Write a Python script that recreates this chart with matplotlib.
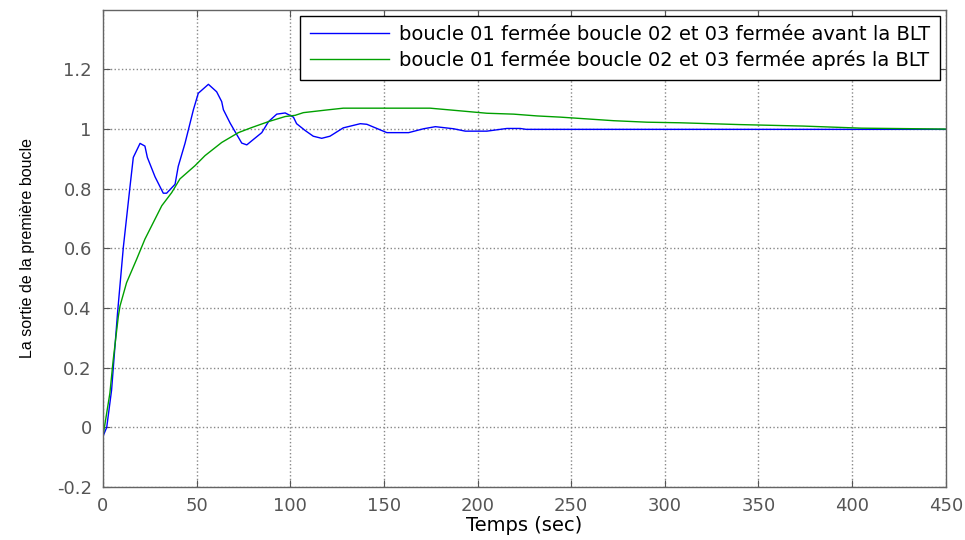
import numpy as np
import matplotlib
matplotlib.use("Agg")
import matplotlib.pyplot as plt
from matplotlib import font_manager

# Réponse de la boucle 01 (lecture de la courbe simulée)
t_avant = [0, 2, 4.6, 7.8, 10.9, 14.4, 16.2, 19.8, 22.4, 23.7, 27.8, 32.2, 34, 38.5,
           40.2, 43.8, 48.3, 50.9, 56.3, 60.7, 63.4, 64.3, 67.9, 71.4, 74.1, 76.8,
           80.3, 84.8, 88.4, 92.8, 97.3, 101.7, 103.4, 108, 112.3, 116.8, 121.2,
           128.3, 137.4, 140.9, 151.6, 163.2, 171.2, 177.5, 187.2, 193.5, 205,
           215.7, 222.8, 226, 450]
y_avant = [-0.03, 0.0, 0.125, 0.385, 0.605, 0.805, 0.905, 0.952, 0.943, 0.905, 0.84,
           0.785, 0.785, 0.815, 0.875, 0.952, 1.065, 1.12, 1.15, 1.125, 1.092, 1.065,
           1.02, 0.982, 0.953, 0.947, 0.965, 0.988, 1.025, 1.05, 1.054, 1.04, 1.018,
           0.995, 0.976, 0.969, 0.976, 1.004, 1.018, 1.016, 0.988, 0.988, 1.001,
           1.008, 1.001, 0.993, 0.993, 1.002, 1.002, 0.999, 0.999]

t_apres = [0, 3.7, 5.5, 8.2, 9.1, 12.6, 18, 22.4, 26.9, 31.4, 36.7, 41.1, 49.1, 54.5,
           63.4, 72.3, 79.4, 88.4, 97.3, 102.6, 107, 119.5, 128.3, 148, 174.7, 190.8,
           205, 219.3, 231.8, 244.2, 258.5, 272.7, 290.5, 308.4, 340, 374, 405, 450]
y_apres = [-0.03, 0.115, 0.228, 0.372, 0.407, 0.485, 0.564, 0.631, 0.687, 0.743,
           0.787, 0.833, 0.877, 0.911, 0.955, 0.988, 1.005, 1.025, 1.042, 1.046,
           1.055, 1.064, 1.07, 1.07, 1.07, 1.061, 1.053, 1.05, 1.044, 1.04, 1.034,
           1.028, 1.023, 1.021, 1.015, 1.01, 1.003, 1.0]

libelles = ["boucle 01 fermée boucle 02 et 03 fermée avant la BLT",
            "boucle 01 fermée boucle 02 et 03 fermée aprés la BLT"]

xticks = np.arange(0, 451, 50)
yticks = [-0.2, 0, 0.2, 0.4, 0.6, 0.8, 1, 1.2]
ytick_labels = ["-0.2", "0", "0.2", "0.4", "0.6", "0.8", "1", "1.2"]

plt.rcParams["font.family"] = ["DejaVu Sans"]

# police étroite pour le titre de l'axe y, si elle est disponible
try:
    font_manager.findfont("Liberation Sans Narrow", fallback_to_default=False)
    ylab_font, ylab_size = "Liberation Sans Narrow", 14.5
except ValueError:
    ylab_font, ylab_size = "Liberation Sans", 11.5

fig = plt.figure(figsize=(9.65, 5.4), dpi=100)
ax = fig.add_axes([0.1067, 0.098, 0.8733, 0.884])

ax.plot(t_avant, y_avant, color="#0000ff", linewidth=1.0, label=libelles[0])
ax.plot(t_apres, y_apres, color="#00a000", linewidth=1.0, label=libelles[1])

ax.set_xlim(0, 450)
ax.set_ylim(-0.2, 1.4)
ax.set_xticks(xticks)
ax.set_xticklabels([str(v) for v in xticks])
ax.set_yticks(yticks)
ax.set_yticklabels(ytick_labels)

ax.grid(True, linestyle=":", color="#888888", linewidth=1.0)
ax.tick_params(direction="in", length=5, colors="#555555", labelsize=13,
               top=True, right=True)
ax.tick_params(axis="x", pad=7)
ax.tick_params(axis="y", pad=8)
for s in ax.spines.values():
    s.set_color("#646464")
    s.set_linewidth(1.0)

ax.set_xlabel("Temps (sec)", fontsize=14, color="black", labelpad=1)
ax.set_ylabel("La sortie de la première boucle", fontsize=ylab_size,
              family=[ylab_font, "DejaVu Sans"], labelpad=16)

leg = ax.legend(loc="upper right", fontsize=14, frameon=True, fancybox=False,
                edgecolor="black", framealpha=1, handlelength=4.1,
                handletextpad=0.5, borderaxespad=0.3, borderpad=0.5,
                labelspacing=0.3)
leg.get_frame().set_linewidth(1.0)

fig.savefig("out.png", dpi=100)
